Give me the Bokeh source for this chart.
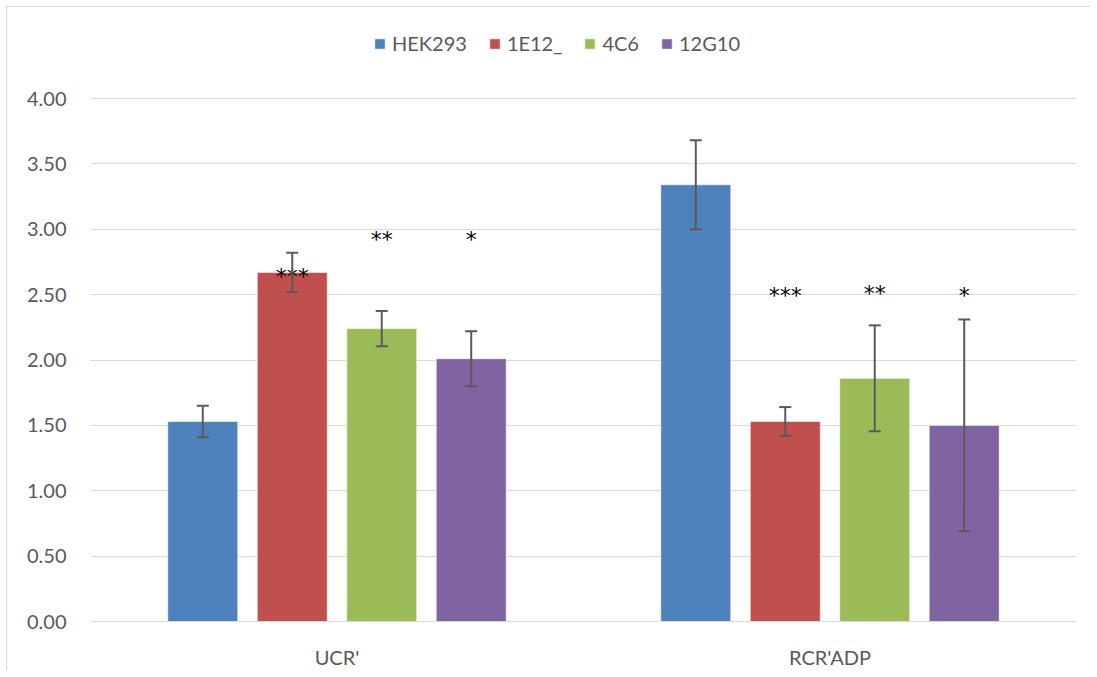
from bokeh.plotting import figure
from bokeh.models import (ColumnDataSource, Range1d, Whisker, TeeHead, Legend, LegendItem,
                          FixedTicker, NumeralTickFormatter)
from bokeh.core.properties import value
from bokeh.embed import file_html
from bokeh.resources import INLINE

# ---- data ----
categories = ["UCR'", "RCR'ADP"]
series = ["HEK293", "1E12_", "4C6", "12G10"]
colors = ["#4F81BD", "#C0504D", "#9BBB59", "#8064A2"]

hek293 = [1.53, 3.34]
e1e12 = [2.67, 1.53]
c4c6 = [2.24, 1.86]
g12g10 = [2.01, 1.50]

hek293_err = [0.12, 0.34]
e1e12_err = [0.15, 0.11]
c4c6_err = [0.135, 0.405]
g12g10_err = [0.21, 0.81]

hek293_sig = ["", ""]
e1e12_sig = ["***", "***"]
c4c6_sig = ["**", "**"]
g12g10_sig = ["*", "*"]
# value level at which each significance mark sits
e1e12_sig_y = [2.64, 2.49]
c4c6_sig_y = [2.92, 2.51]
g12g10_sig_y = [2.92, 2.49]
hek293_sig_y = [0.0, 0.0]

yticks = [0.0, 0.5, 1.0, 1.5, 2.0, 2.5, 3.0, 3.5, 4.0]

values = [hek293, e1e12, c4c6, g12g10]
errors = [hek293_err, e1e12_err, c4c6_err, g12g10_err]
sigs = [hek293_sig, e1e12_sig, c4c6_sig, g12g10_sig]
sig_ys = [hek293_sig_y, e1e12_sig_y, c4c6_sig_y, g12g10_sig_y]

FONT = "Lato"
GREY = "#595959"
step = 0.1815
bar_w = 0.142

# frame runs to the top of the canvas; headroom above 4.00 holds the legend
p = figure(width=1084, height=664, output_backend="svg", toolbar_location=None,
           x_range=Range1d(0, len(categories)), y_range=Range1d(0, 4.696),
           min_border_left=83, min_border_right=15, min_border_top=0, min_border_bottom=50)
p.margin = (6, 0, 0, 6)
p.outline_line_color = None
p.background_fill_color = "white"
p.border_fill_color = "white"
p.styles = {"border-left": "1px solid #D9D9D9", "border-top": "1px solid #D9D9D9"}

items = []
for k, name in enumerate(series):
    off = (k - 1.5) * step
    xs = [i + 0.5 + off for i in range(len(categories))]
    src = ColumnDataSource(dict(
        x=xs, top=values[k],
        upper=[v + e for v, e in zip(values[k], errors[k])],
        lower=[v - e for v, e in zip(values[k], errors[k])],
        sig=sigs[k], sig_y=sig_ys[k]))
    r = p.vbar(x="x", top="top", width=bar_w, bottom=0, source=src,
               fill_color=colors[k], line_color="white", line_alpha=0.6, line_width=1)
    items.append(LegendItem(label=name, renderers=[r]))
    w = Whisker(source=src, base="x", upper="upper", lower="lower", level="annotation",
                line_color="#5A5A5A", line_width=2,
                upper_head=TeeHead(size=12, line_color="#5A5A5A", line_width=2),
                lower_head=TeeHead(size=12, line_color="#5A5A5A", line_width=2))
    p.add_layout(w)
    p.text(x="x", y="sig_y", text="sig", source=src, text_align="center",
           text_baseline="middle", text_font=value("DejaVu Sans"), text_font_size="22px",
           text_color="black")

legend = Legend(items=items, orientation="horizontal", location=(283, 566),
                glyph_width=13, glyph_height=13, label_standoff=6, spacing=21,
                padding=0, margin=0, background_fill_alpha=0, border_line_color=None,
                label_text_font=FONT, label_text_font_size="20px", label_text_color=GREY)
p.add_layout(legend)

# axes
p.yaxis.ticker = FixedTicker(ticks=yticks)
p.yaxis.formatter = NumeralTickFormatter(format="0.00")
p.yaxis.axis_line_color = None
p.yaxis.major_tick_line_color = None
p.yaxis.minor_tick_line_color = None
p.yaxis.major_label_standoff = 18
p.yaxis.major_label_text_font = FONT
p.yaxis.major_label_text_font_size = "20px"
p.yaxis.major_label_text_color = GREY

p.xaxis.ticker = FixedTicker(ticks=[i + 0.5 for i in range(len(categories))])
p.xaxis.major_label_overrides = {i + 0.5: c for i, c in enumerate(categories)}
p.xaxis.axis_line_color = "#D9D9D9"
p.xaxis.axis_line_width = 1
p.xaxis.major_tick_line_color = None
p.xaxis.minor_tick_line_color = None
p.xaxis.major_label_standoff = 17
p.xaxis.major_label_text_font = FONT
p.xaxis.major_label_text_font_size = "20px"
p.xaxis.major_label_text_color = GREY

p.xgrid.grid_line_color = None
p.ygrid.ticker = FixedTicker(ticks=yticks)
p.ygrid.grid_line_color = "#D9D9D9"
p.ygrid.grid_line_width = 1

open("out.html", "w").write(file_html(p, INLINE))
